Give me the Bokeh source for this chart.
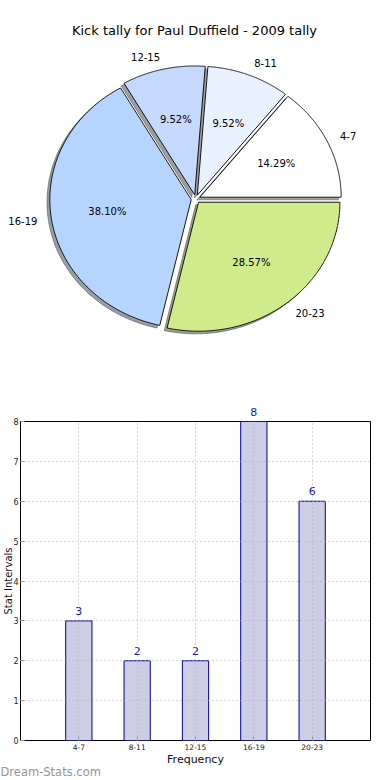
import numpy as np
from bokeh.plotting import figure
from bokeh.models import (Range1d, ColumnDataSource, LabelSet, Label, FixedTicker,
                          LinearAxis, Title)
from bokeh.core.properties import value
from bokeh.embed import file_html
from bokeh.resources import INLINE

# ---------------- data ----------------
title_text = "Kick tally for Paul Duffield - 2009 tally"
categories = ["4-7", "8-11", "12-15", "16-19", "20-23"]
counts = [3, 2, 2, 8, 6]
pie_colors = ["#ffffff", "#e9f1ff", "#c5d9ff", "#b5d5ff", "#d0eb8b"]
y_ticks = [0, 1, 2, 3, 4, 5, 6, 7, 8]
x_label = "Frequency"
y_label = "Stat Intervals"
watermark = "Dream-Stats.com"

FONT = "DejaVu Sans"

# ---------------- layout constants ----------------
W = 384
PIE_H = 392
BAR_H = 386

# pie geometry (elliptical, like the original)
CX, CY = 195.2, 198.5
RX, RY = 141.4, 129.0
explode = 0.032
shadow_off = 0.02


def px_to_x(px):
    return (px - CX) / RX


def py_to_y(py):
    return (CY - py) / RY


pie = figure(width=W, height=PIE_H, output_backend="svg", toolbar_location=None,
             x_range=Range1d(px_to_x(0), px_to_x(W)),
             y_range=Range1d(py_to_y(PIE_H), py_to_y(0)),
             x_axis_location=None, y_axis_location=None,
             min_border_left=0, min_border_right=0,
             min_border_top=0, min_border_bottom=0)
pie.grid.visible = False
pie.outline_line_color = None

total = float(sum(counts))
fracs = np.array(counts) / total
bounds = np.concatenate([[0.0], np.cumsum(fracs)]) * 2 * np.pi

wx, wy, sx, sy, scol = [], [], [], [], []
labL = dict(x=[], y=[], t=[])
labR = dict(x=[], y=[], t=[])
pct = dict(x=[], y=[], t=[])
for i, (a0, a1) in enumerate(zip(bounds[:-1], bounds[1:])):
    am = 0.5 * (a0 + a1)
    ox, oy = explode * np.cos(am), explode * np.sin(am)
    t = np.linspace(a0, a1, 160)
    px = np.concatenate([[ox], ox + np.cos(t), [ox]])
    py = np.concatenate([[oy], oy + np.sin(t), [oy]])
    wx.append(px.tolist())
    wy.append(py.tolist())
    sx.append((px - shadow_off).tolist())
    sy.append((py - shadow_off).tolist())
    h = pie_colors[i].lstrip("#")
    rgb = [int(h[k:k + 2], 16) for k in (0, 2, 4)]
    scol.append("#%02x%02x%02x" % tuple(int(c * 0.3) for c in rgb))
    lx = ox + 1.1 * np.cos(am)
    ly = oy + 1.1 * np.sin(am)
    d = labL if lx > 0 else labR
    d["x"].append(lx)
    d["y"].append(ly)
    d["t"].append(categories[i])
    pct["x"].append(ox + 0.6 * np.cos(am))
    pct["y"].append(oy + 0.6 * np.sin(am))
    pct["t"].append("%.2f%%" % (100 * fracs[i]))

pie.patches(xs=sx, ys=sy, fill_color=scol, fill_alpha=0.5,
            line_color=scol, line_alpha=0.5, line_width=1)
pie.patches(xs=wx, ys=wy, fill_color=pie_colors, line_color="black", line_width=0.9)

for src, align in ((labL, "left"), (labR, "right"), (pct, "center")):
    pie.text(x="x", y="y", text="t", source=ColumnDataSource(src),
             text_align=align, text_baseline="middle",
             text_font=value(FONT), text_font_size="10px", text_color="black")

pie.add_layout(Label(x=px_to_x(194), y=py_to_y(29.5), text=title_text,
                     text_align="center", text_baseline="middle",
                     text_font=FONT, text_font_size="13px", text_color="black"))

# ---------------- bar chart ----------------
FRAME_L, FRAME_R = 20, 370
FRAME_T, FRAME_B = 421 - PIE_H, 740 - PIE_H
y_max = y_ticks[-1]

bar = figure(width=W, height=BAR_H, output_backend="svg", toolbar_location=None,
             x_range=Range1d(-1, 5), y_range=Range1d(y_ticks[0], y_max),
             min_border_left=FRAME_L, min_border_right=W - FRAME_R,
             min_border_top=FRAME_T, min_border_bottom=BAR_H - FRAME_B)
bar.outline_line_color = "black"
bar.outline_line_width = 1

idx = list(range(len(categories)))
bsrc = ColumnDataSource(dict(x=idx, top=counts))
bar.vbar(x="x", top="top", bottom=0, width=0.45, source=bsrc,
         fill_color="#cdcde6", line_color="#00008b", line_width=1)

bar.xaxis.ticker = FixedTicker(ticks=idx)
bar.xaxis.major_label_overrides = {i: c for i, c in zip(idx, categories)}
bar.yaxis.ticker = FixedTicker(ticks=y_ticks)
for ax in (bar.xaxis[0], bar.yaxis[0]):
    ax.axis_line_color = None
    ax.major_tick_in = 4
    ax.major_tick_out = 0
    ax.major_tick_line_color = "#999999"
    ax.minor_tick_line_color = None
    ax.major_label_text_font = FONT
    ax.major_label_text_color = "#222222"
    ax.axis_label_text_font = FONT
    ax.axis_label_text_font_style = "normal"
    ax.axis_label_text_color = "#111111"
bar.xaxis.major_label_text_font_size = "7.5px"
bar.yaxis.major_label_text_font_size = "8px"
bar.xaxis.major_label_standoff = 3
bar.yaxis.major_label_standoff = 2
bar.xaxis.axis_label = x_label
bar.xaxis.axis_label_text_font_size = "11px"
bar.xaxis.axis_label_standoff = 0
bar.yaxis.axis_label = y_label
bar.yaxis.axis_label_text_font_size = "10px"
bar.yaxis.axis_label_text_line_height = 1.0
bar.yaxis.axis_label_standoff = -4

for g in (bar.xgrid[0], bar.ygrid[0]):
    g.grid_line_color = "#b0b0b0"
    g.grid_line_dash = "1 3"
    g.grid_line_width = 1
    g.level = "overlay"

# value labels: the ones inside the frame as a LabelSet, the ones at the very top
# (which sit above the frame) as tick labels of a top axis
inside = [(i, c) for i, c in zip(idx, counts) if c < y_max]
top_row = [(i, c) for i, c in zip(idx, counts) if c >= y_max]
lsrc = ColumnDataSource(dict(x=[i for i, _ in inside], y=[c for _, c in inside],
                             t=[str(c) for _, c in inside]))
bar.add_layout(LabelSet(x="x", y="y", text="t", source=lsrc, y_offset=6,
                        text_align="center", text_baseline="alphabetic",
                        text_font=value(FONT), text_font_size="11px",
                        text_color="#1a1a99"))
top_ax = LinearAxis(ticker=FixedTicker(ticks=[i for i, _ in top_row]),
                    major_label_overrides={i: str(c) for i, c in top_row},
                    axis_line_color=None, major_tick_line_color=None,
                    minor_tick_line_color=None, major_label_standoff=0,
                    major_label_text_font=FONT, major_label_text_font_size="11px",
                    major_label_text_color="#1a1a99")
bar.add_layout(top_ax, "above")

bar.add_layout(Title(text=watermark, align="left", offset=-FRAME_L, standoff=-11,
                     text_font=FONT, text_font_size="11.5px",
                     text_font_style="normal", text_color="#969696"), "below")

open("out.html", "w").write(file_html([pie, bar], INLINE))
